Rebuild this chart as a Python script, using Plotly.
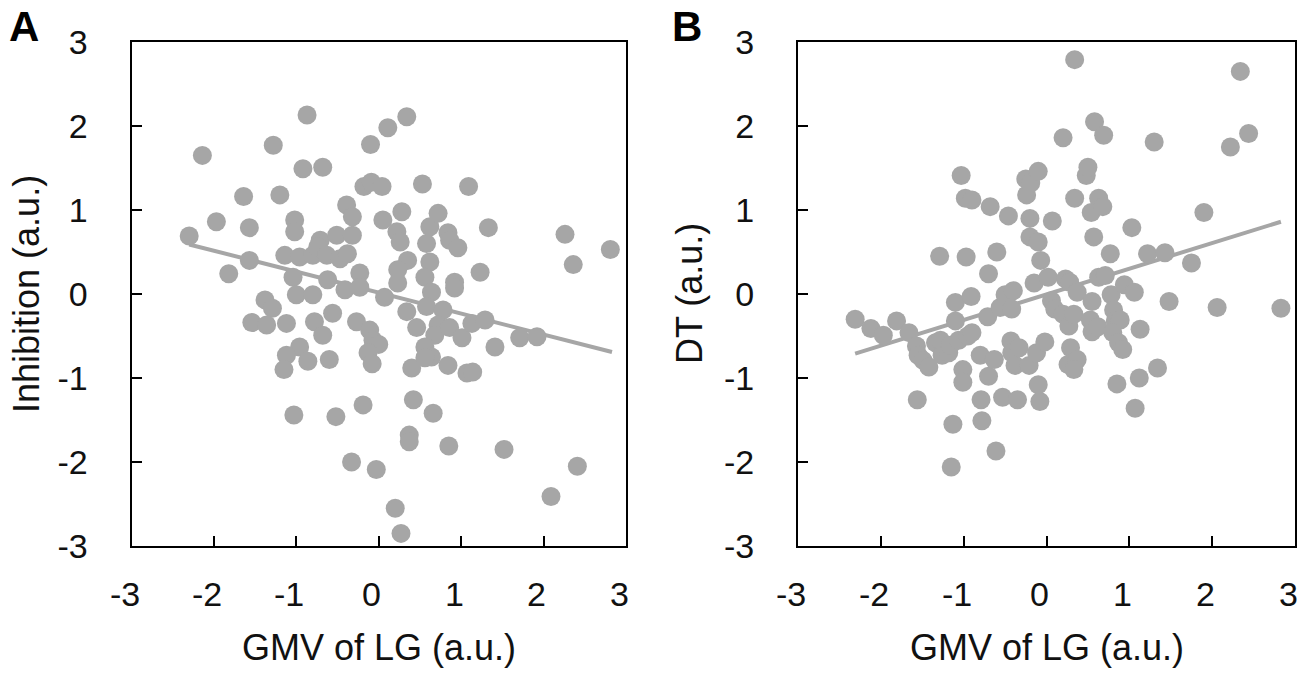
import plotly.graph_objects as go

# ---- Panel A data: GMV of LG vs Inhibition ----
a_x = [-2.30, -2.14, -1.97, -1.82, -1.64, -1.57, -1.57, -1.28, -1.20, -1.38, -1.29, -1.54, -1.36,
       -1.14, -1.02, -1.02, -1.04, -1.00, -1.12, -0.87, -0.92, -0.68, -0.96, -0.71, -0.80, -0.74,
       -0.63, -0.47, -0.38, -0.80, -0.62, -0.78, -0.68, -0.56, -0.96, -0.86, -1.12, -1.15, -0.60,
       -1.03, -0.52, -0.51, -0.39, -0.32, -0.32, -0.41, -0.23, -0.23, -0.27, -0.19, -0.33, -0.03,
       -0.10, -0.18, -0.09, 0.04, 0.11, 0.34, 0.05, 0.22, 0.26, 0.28, 0.35, 0.23, 0.23, 0.07,
       -0.11, -0.07, 0.00, -0.13, -0.08, 0.34, 0.46, 0.40, 0.42, 0.37, 0.37, 0.20, 0.27, 0.53,
       0.58, 0.62, 0.56, 0.64, 0.58, 0.62, 0.72, 0.84, 0.86, 0.96, 0.92, 0.92, 0.78, 0.72, 0.68,
       0.56, 0.64, 0.56, 0.86, 0.84, 0.66, 0.85, 1.01, 1.09, 1.23, 1.13, 1.29, 1.33, 1.07, 1.14,
       1.41, 1.52, 1.71, 1.92, 2.26, 2.36, 2.81, 2.09, 2.41]
a_y = [0.69, 1.65, 0.86, 0.24, 1.16, 0.79, 0.40, 1.77, 1.18, -0.07, -0.17, -0.34, -0.37,
       0.46, 0.88, 0.74, 0.20, -0.01, -0.35, 2.13, 1.49, 1.51, 0.44, 0.64, 0.46, 0.56,
       0.46, 0.42, 0.48, -0.01, 0.17, -0.33, -0.49, -0.23, -0.63, -0.80, -0.73, -0.90, -0.78,
       -1.44, -1.46, 0.70, 1.06, 0.92, 0.70, 0.05, 0.25, 0.08, -0.33, -1.32, -2.00, -2.09,
       1.78, 1.28, 1.33, 1.28, 1.98, 2.11, 0.88, 0.74, 0.62, 0.98, 0.40, 0.29, 0.13, -0.04,
       -0.43, -0.55, -0.60, -0.70, -0.83, -0.21, -0.40, -0.88, -1.26, -1.68, -1.76, -2.55, -2.85, 1.31,
       0.60, 0.38, 0.20, 0.02, -0.15, 0.80, 0.96, 0.73, 0.64, 0.55, 0.14, 0.07, -0.19, -0.37, -0.49,
       -0.63, -0.75, -0.76, -0.40, -0.85, -1.42, -1.81, -0.52, 1.28, 0.26, -0.35, -0.31, 0.79, -0.94, -0.93,
       -0.63, -1.85, -0.52, -0.51, 0.71, 0.35, 0.53, -2.41, -2.05]
a_fit_x = [-2.30, 2.83]
a_fit_y = [0.59, -0.69]

# ---- Panel B data: GMV of LG vs DT ----
b_x = [-2.31, -2.12, -1.97, -1.81, -1.66, -1.57, -1.56, -1.55, -1.49, -1.42, -1.34, -1.28, -1.26,
       -1.18, -1.16, -1.06, -1.29, -1.10, -1.10, -1.03, -0.98, -0.90, -0.97, -0.91, -0.95, -0.90,
       -1.01, -1.01, -1.13, -1.15, -0.80, -0.79, -0.78, -0.68, -0.70, -0.71, -0.70, -0.63, -0.60,
       -0.61, -0.53, -0.56, -0.50, -0.46, -0.40, -0.42, -0.43, -0.42, -0.38, -0.35, -0.33, -0.25,
       -0.24, -0.19, -0.20, -0.20, -0.10, -0.10, -0.15, -0.21, -0.12, -0.02, -0.10, -0.08, -0.07,
       0.02, 0.07, 0.06, 0.10, 0.20, 0.20, 0.23, 0.28, 0.27, 0.29, 0.26, 0.34, 0.34, 0.37, 0.33,
       0.37, 0.33, 0.48, 0.50, 0.54, 0.57, 0.55, 0.58, 0.69, 0.63, 0.68, 0.53, 0.55, 0.62, 0.63,
       0.71, 0.77, 0.78, 0.81, 0.83, 0.89, 0.80, 0.87, 0.92, 0.94, 0.85, 1.03, 1.06, 1.07, 1.13,
       1.12, 1.22, 1.30, 1.34, 1.43, 1.48, 1.75, 1.90, 2.06, 2.22, 2.34, 2.44, 2.83]
b_y = [-0.30, -0.41, -0.49, -0.32, -0.46, -0.62, -1.26, -0.73, -0.79, -0.87, -0.58, -0.55, -0.73,
       -0.70, -0.61, -0.55, 0.45, -0.10, -0.32, 1.41, 1.14, 1.12, 0.44, -0.03, -0.50, -0.46,
       -0.90, -1.05, -1.55, -2.06, -0.73, -1.26, -1.51, 1.04, 0.24, -0.27, -0.98, -0.78, 0.50,
       -1.87, -1.23, -0.16, -0.01, 0.93, 0.04, -0.18, -0.56, -0.70, -0.85, -1.26, -0.64, 1.37,
       1.18, 1.32, 0.90, 0.68, 0.62, 1.46, 0.13, -0.85, -0.70, -0.57, -1.08, -1.28, 0.40,
       0.20, 0.87, -0.08, -0.18, 1.86, -0.24, 0.18, 0.14, -0.38, -0.64, -0.84, 2.79, 1.14, 0.02, -0.24,
       -0.78, -0.90, 1.41, 1.51, 0.97, 0.68, -0.09, 2.05, 1.89, 1.14, 1.04, -0.31, -0.45, -0.39, 0.20,
       0.22, 0.48, -0.01, -0.19, -0.32, -0.31, -0.46, -0.58, -0.66, 0.11, -1.07, 0.79, 0.02, -1.36, -0.42,
       -1.00, 0.48, 1.81, -0.88, 0.49, -0.09, 0.37, 0.97, -0.16, 1.75, 2.65, 1.91, -0.17]
b_fit_x = [-2.31, 2.83]
b_fit_y = [-0.71, 0.86]

tick_vals = [-3, -2, -1, 0, 1, 2, 3]
tick_text = ["-3", "-2", "-1", "0", "1", "2", "3"]

GRAY = "#a6a6a6"
INK = "#111111"
FONT = "Liberation Sans, Arial, sans-serif"
W, H = 1300, 674

fig = go.Figure()
for xs, ys, fx, fy, xa, ya in [(a_x, a_y, a_fit_x, a_fit_y, "x", "y"),
                               (b_x, b_y, b_fit_x, b_fit_y, "x2", "y2")]:
    fig.add_trace(go.Scatter(x=fx, y=fy, mode="lines", xaxis=xa, yaxis=ya,
                             line=dict(color=GRAY, width=4), hoverinfo="skip", showlegend=False))
    fig.add_trace(go.Scatter(x=xs, y=ys, mode="markers", xaxis=xa, yaxis=ya,
                             marker=dict(color=GRAY, size=19, line=dict(width=0)), showlegend=False))

def px_x(p):
    return p / W

def px_y(p):
    return 1 - p / H

top, bottom = 42, 546
TICK_SIZE = 34

axis_common = dict(range=[-3, 3], showline=True, linecolor="black", linewidth=2, mirror=True,
                   showgrid=False, zeroline=False, ticks="inside", ticklen=10, tickwidth=2,
                   tickcolor="black", tickvals=tick_vals, ticktext=tick_text, automargin=False,
                   tickfont=dict(family=FONT, size=TICK_SIZE, color=INK))
xaxis_extra = dict(showticklabels=False)
yaxis_extra = dict(ticklabelstandoff=35)

fig.update_layout(
    template="none",
    width=W, height=H, margin=dict(l=0, r=0, t=0, b=0, pad=0, autoexpand=False),
    paper_bgcolor="white", plot_bgcolor="white",
    xaxis=dict(domain=[px_x(131.5), px_x(626)], anchor="y", **xaxis_extra, **axis_common),
    yaxis=dict(domain=[px_y(bottom), px_y(top)], anchor="x", **yaxis_extra, **axis_common),
    xaxis2=dict(domain=[px_x(798), px_x(1295)], anchor="y2", **xaxis_extra, **axis_common),
    yaxis2=dict(domain=[px_y(bottom), px_y(top)], anchor="x2", **yaxis_extra, **axis_common),
)

ann = []
# x tick labels, placed on the axes' own scales (slightly left of each tick as in the original)
for xref in ["x", "x2"]:
    for v, t in zip(tick_vals, tick_text):
        ann.append(dict(x=v, y=px_y(594), xref=xref, yref="paper", text=t, showarrow=False,
                        xshift=-7, font=dict(family=FONT, size=TICK_SIZE, color=INK),
                        xanchor="center", yanchor="middle"))

TITLE_SIZE = 36
for cx in [(131.5 + 626) / 2, (798 + 1295) / 2]:
    ann.append(dict(x=px_x(cx), y=px_y(647), xref="paper", yref="paper", text="GMV of LG (a.u.)",
                    showarrow=False, font=dict(family=FONT, size=TITLE_SIZE, color=INK),
                    xanchor="center", yanchor="middle"))
ann.append(dict(x=px_x(26), y=px_y(294), xref="paper", yref="paper", text="Inhibition (a.u.)",
                showarrow=False, textangle=-90, font=dict(family=FONT, size=TITLE_SIZE, color=INK),
                xanchor="center", yanchor="middle"))
ann.append(dict(x=px_x(689), y=px_y(294), xref="paper", yref="paper", text="DT (a.u.)",
                showarrow=False, textangle=-90, font=dict(family=FONT, size=TITLE_SIZE, color=INK),
                xanchor="center", yanchor="middle"))
ann.append(dict(x=px_x(24), y=px_y(27), xref="paper", yref="paper", text="<b>A</b>",
                showarrow=False, font=dict(family=FONT, size=42, color="black"),
                xanchor="center", yanchor="middle"))
ann.append(dict(x=px_x(687), y=px_y(27), xref="paper", yref="paper", text="<b>B</b>",
                showarrow=False, font=dict(family=FONT, size=42, color="black"),
                xanchor="center", yanchor="middle"))
fig.update_layout(annotations=ann)

# remove the browser's default 8 px body margin so the figure fills the window exactly
fig.write_html("out.html",
               config={"displayModeBar": False},
               post_script="document.body.style.margin='0';document.body.style.overflow='hidden';")
